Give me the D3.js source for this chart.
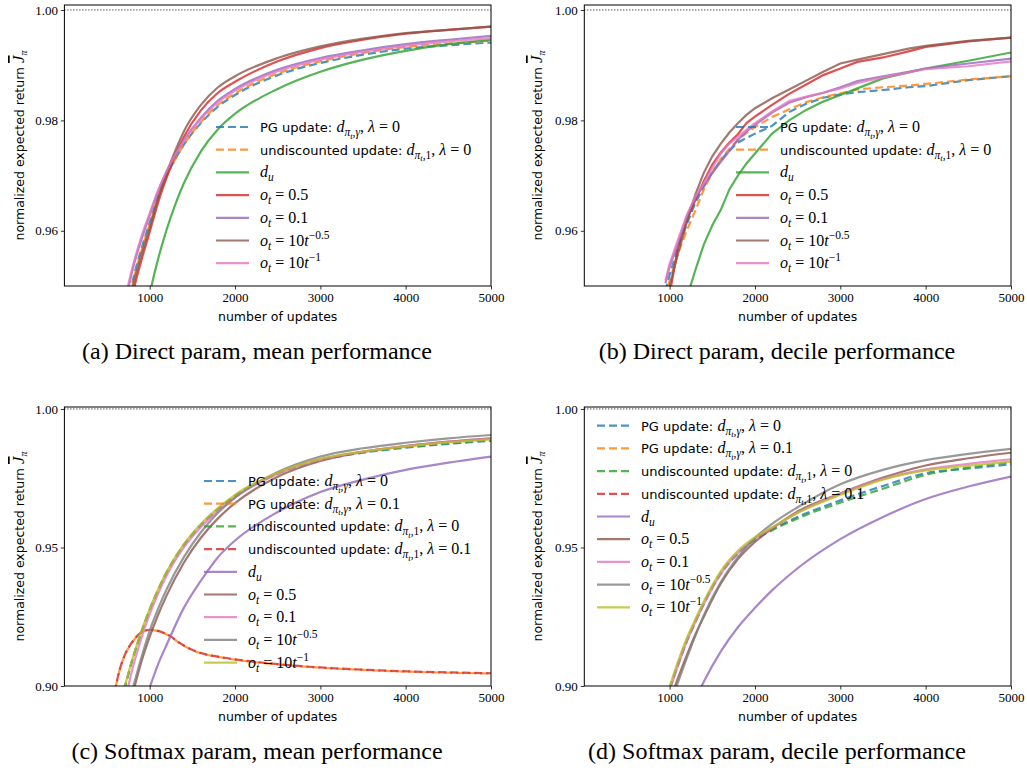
<!DOCTYPE html>
<html>
<head>
<meta charset="utf-8">
<script src="https://cdn.jsdelivr.net/npm/d3@7"></script>
<style>
body { margin: 0; background: #fff; }
text { white-space: pre; }
</style>
</head>
<body>
<svg id="fig" width="1027" height="772"></svg>
<script>
// ---- panel (a): direct param, mean ----
var xsA = [700, 800, 900, 1000, 1100, 1200, 1300, 1400, 1600, 1800, 2000, 2500, 3000, 3500, 4000, 4500, 5000];
var aPg   = [0.9420, 0.9508, 0.9566, 0.9615, 0.9662, 0.9700, 0.9730, 0.9756, 0.9795, 0.9825, 0.9846, 0.9882, 0.9904, 0.9919, 0.9930, 0.9936, 0.9941];
var aUnd  = [0.9410, 0.9503, 0.9562, 0.9612, 0.9660, 0.9699, 0.9730, 0.9756, 0.9797, 0.9828, 0.9849, 0.9885, 0.9907, 0.9922, 0.9933, 0.9939, 0.9944];
var aDu   = [0.9220, 0.9310, 0.9400, 0.9485, 0.9550, 0.9603, 0.9648, 0.9686, 0.9744, 0.9784, 0.9812, 0.9857, 0.9888, 0.9910, 0.9926, 0.9938, 0.9946];
var aO05  = [0.9370, 0.9482, 0.9545, 0.9598, 0.9652, 0.9697, 0.9737, 0.9770, 0.9818, 0.9850, 0.9870, 0.9907, 0.9931, 0.9946, 0.9957, 0.9964, 0.9970];
var aO01  = [0.9460, 0.9530, 0.9583, 0.9628, 0.9672, 0.9708, 0.9738, 0.9764, 0.9805, 0.9836, 0.9857, 0.9892, 0.9913, 0.9927, 0.9938, 0.9946, 0.9953];
var aOsq  = [0.9400, 0.9495, 0.9555, 0.9605, 0.9660, 0.9705, 0.9745, 0.9780, 0.9828, 0.9860, 0.9880, 0.9913, 0.9934, 0.9948, 0.9958, 0.9964, 0.9970];
var aOinv = [0.9470, 0.9535, 0.9588, 0.9632, 0.9674, 0.9709, 0.9738, 0.9763, 0.9803, 0.9833, 0.9854, 0.9889, 0.9910, 0.9924, 0.9935, 0.9943, 0.9949];

// ---- panel (b): direct param, decile ----
var xsB = [950, 1000, 1100, 1200, 1300, 1400, 1500, 1600, 1700, 1800, 1900, 2000, 2200, 2400, 2600, 2800, 3000, 3200, 3500, 3800, 4000, 4500, 5000];
var bPg   = [0.9490, 0.9520, 0.9570, 0.9612, 0.9650, 0.9680, 0.9706, 0.9728, 0.9745, 0.9760, 0.9768, 0.9776, 0.9790, 0.9815, 0.9830, 0.9841, 0.9847, 0.9851, 0.9855, 0.9860, 0.9862, 0.9873, 0.9880];
var bUnd  = [0.9480, 0.9510, 0.9560, 0.9600, 0.9636, 0.9675, 0.9705, 0.9730, 0.9748, 0.9765, 0.9777, 0.9788, 0.9806, 0.9820, 0.9833, 0.9842, 0.9849, 0.9856, 0.9860, 0.9863, 0.9866, 0.9874, 0.9880];
var bDu   = [0.9300, 0.9330, 0.9400, 0.9478, 0.9528, 0.9575, 0.9610, 0.9638, 0.9675, 0.9700, 0.9722, 0.9740, 0.9776, 0.9800, 0.9819, 0.9834, 0.9846, 0.9858, 0.9876, 0.9887, 0.9894, 0.9908, 0.9923];
var bO05  = [0.9440, 0.9485, 0.9572, 0.9620, 0.9655, 0.9690, 0.9720, 0.9742, 0.9760, 0.9775, 0.9795, 0.9807, 0.9828, 0.9848, 0.9865, 0.9882, 0.9894, 0.9906, 0.9914, 0.9925, 0.9933, 0.9943, 0.9950];
var bO01  = [0.9505, 0.9535, 0.9578, 0.9625, 0.9660, 0.9682, 0.9705, 0.9725, 0.9745, 0.9765, 0.9780, 0.9792, 0.9814, 0.9832, 0.9842, 0.9850, 0.9860, 0.9871, 0.9880, 0.9888, 0.9894, 0.9903, 0.9912];
var bOsq  = [0.9470, 0.9500, 0.9560, 0.9615, 0.9665, 0.9705, 0.9735, 0.9758, 0.9778, 0.9795, 0.9810, 0.9822, 0.9840, 0.9856, 0.9872, 0.9888, 0.9903, 0.9910, 0.9920, 0.9930, 0.9935, 0.9944, 0.9950];
var bOinv = [0.9510, 0.9540, 0.9585, 0.9628, 0.9662, 0.9686, 0.9714, 0.9740, 0.9758, 0.9770, 0.9783, 0.9795, 0.9816, 0.9835, 0.9843, 0.9850, 0.9858, 0.9868, 0.9878, 0.9887, 0.9893, 0.9898, 0.9907];

// ---- panel (c): softmax param, mean ----
var xsC = [600, 650, 700, 800, 900, 1000, 1100, 1200, 1400, 1600, 1800, 2000, 2500, 3000, 3500, 4000, 4500, 5000];
var cPg0  = [null, null, 0.8985, 0.9098, 0.9192, 0.9275, 0.9347, 0.9410, 0.9508, 0.9580, 0.9637, 0.9685, 0.9766, 0.9815, 0.9842, 0.9860, 0.9874, 0.9885];
var cPg1  = [0.8995, 0.9060, 0.9105, 0.9160, 0.9192, 0.9202, 0.9198, 0.9186, 0.9145, 0.9118, 0.9105, 0.9095, 0.9078, 0.9066, 0.9058, 0.9052, 0.9048, 0.9045];
var cUnd0 = [null, null, 0.8985, 0.9098, 0.9192, 0.9276, 0.9348, 0.9411, 0.9509, 0.9582, 0.9639, 0.9687, 0.9767, 0.9817, 0.9844, 0.9862, 0.9876, 0.9887];
var cUnd1 = [0.8996, 0.9061, 0.9106, 0.9161, 0.9193, 0.9203, 0.9199, 0.9187, 0.9146, 0.9119, 0.9106, 0.9096, 0.9079, 0.9067, 0.9059, 0.9053, 0.9049, 0.9046];
var cDu   = [null, null, null, null, null, 0.8995, 0.9080, 0.9150, 0.9282, 0.9380, 0.9465, 0.9525, 0.9628, 0.9700, 0.9745, 0.9780, 0.9806, 0.9828];
var cO05  = [null, null, null, 0.8970, 0.9085, 0.9178, 0.9258, 0.9328, 0.9445, 0.9535, 0.9605, 0.9660, 0.9755, 0.9812, 0.9845, 0.9866, 0.9882, 0.9894];
var cO01  = [null, null, 0.8930, 0.9065, 0.9170, 0.9260, 0.9335, 0.9400, 0.9500, 0.9574, 0.9632, 0.9681, 0.9765, 0.9817, 0.9846, 0.9866, 0.9881, 0.9893];
var cOsq  = [null, null, null, 0.8990, 0.9100, 0.9200, 0.9280, 0.9350, 0.9465, 0.9555, 0.9625, 0.9680, 0.9772, 0.9828, 0.9858, 0.9878, 0.9894, 0.9906];
var cOinv = [null, null, 0.8990, 0.9100, 0.9195, 0.9278, 0.9350, 0.9413, 0.9512, 0.9585, 0.9642, 0.9690, 0.9770, 0.9820, 0.9846, 0.9864, 0.9879, 0.9890];

// ---- panel (d): softmax param, decile ----
var xsD = [1000, 1100, 1200, 1300, 1400, 1600, 1800, 2000, 2200, 2500, 3000, 3500, 4000, 4500, 5000];
var dPg0  = [0.8990, 0.9080, 0.9162, 0.9232, 0.9298, 0.9408, 0.9480, 0.9530, 0.9565, 0.9610, 0.9670, 0.9722, 0.9768, 0.9785, 0.9800];
var dUnd0 = [0.8988, 0.9078, 0.9160, 0.9230, 0.9296, 0.9405, 0.9478, 0.9528, 0.9562, 0.9605, 0.9662, 0.9712, 0.9762, 0.9788, 0.9807];
var dDu   = [null, null, null, 0.8950, 0.9015, 0.9125, 0.9212, 0.9282, 0.9345, 0.9425, 0.9530, 0.9610, 0.9675, 0.9720, 0.9756];
var dO05  = [0.8945, 0.9030, 0.9110, 0.9185, 0.9250, 0.9370, 0.9458, 0.9520, 0.9568, 0.9630, 0.9695, 0.9752, 0.9796, 0.9822, 0.9842];
var dO01  = [0.8985, 0.9075, 0.9160, 0.9230, 0.9295, 0.9405, 0.9480, 0.9532, 0.9570, 0.9625, 0.9695, 0.9748, 0.9782, 0.9802, 0.9818];
var dOsq  = [0.8930, 0.9015, 0.9100, 0.9180, 0.9255, 0.9375, 0.9465, 0.9535, 0.9585, 0.9645, 0.9728, 0.9780, 0.9815, 0.9838, 0.9856];
var dOinv = [0.8998, 0.9090, 0.9172, 0.9240, 0.9305, 0.9415, 0.9488, 0.9537, 0.9573, 0.9625, 0.9690, 0.9745, 0.9778, 0.9795, 0.9810];

var xTicks = [1000, 2000, 3000, 4000, 5000];
var yTicksTop = [0.96, 0.98, 1.00];
var yTicksBottom = [0.90, 0.95, 1.00];
var captions = ["(a) Direct param, mean performance", "(b) Direct param, decile performance",
                "(c) Softmax param, mean performance", "(d) Softmax param, decile performance"];

// legend labels: s = sans text, r = roman math, i = italic math, b = subscript, bb = sub-subscript, p = superscript
var labPg0  = [["s", "PG update: "], ["i", "d"], ["b", "π"], ["bb", "t"], ["b", ",γ"], ["r", ", "], ["i", "λ"], ["r", " = 0"]];
var labPg1  = [["s", "PG update: "], ["i", "d"], ["b", "π"], ["bb", "t"], ["b", ",γ"], ["r", ", "], ["i", "λ"], ["r", " = 0.1"]];
var labUnd0 = [["s", "undiscounted update: "], ["i", "d"], ["b", "π"], ["bb", "t"], ["br", ",1"], ["r", ", "], ["i", "λ"], ["r", " = 0"]];
var labUnd1 = [["s", "undiscounted update: "], ["i", "d"], ["b", "π"], ["bb", "t"], ["br", ",1"], ["r", ", "], ["i", "λ"], ["r", " = 0.1"]];
var labDu   = [["i", "d"], ["b", "u"]];
var labO05  = [["i", "o"], ["b", "t"], ["r", " = 0.5"]];
var labO01  = [["i", "o"], ["b", "t"], ["r", " = 0.1"]];
var labOsq  = [["i", "o"], ["b", "t"], ["r", " = 10"], ["i", "t"], ["p", "−0.5"]];
var labOinv = [["i", "o"], ["b", "t"], ["r", " = 10"], ["i", "t"], ["p", "−1"]];

var tab = {blue: "#1f77b4", orange: "#ff7f0e", green: "#2ca02c", red: "#d62728", purple: "#9467bd",
           brown: "#8c564b", pink: "#e377c2", gray: "#7f7f7f", olive: "#bcbd22"};

var panels = [
  {left: 64.4, right: 491, top: 5, bottom: 286, ydom: [0.95, 1.0009], yticks: yTicksTop, xs: xsA,
   curve: d3.curveMonotoneX, lab: 24, leg: [216, 127], cap: [257, 359], xlab: 321,
   series: [
     {lab: labPg0, color: tab.blue, dash: true, v: aPg},
     {lab: labUnd0, color: tab.orange, dash: true, v: aUnd},
     {lab: labDu, color: tab.green, v: aDu},
     {lab: labO05, color: tab.red, v: aO05},
     {lab: labO01, color: tab.purple, v: aO01},
     {lab: labOsq, color: tab.brown, v: aOsq},
     {lab: labOinv, color: tab.pink, v: aOinv}]},
  {left: 584.3, right: 1011, top: 5, bottom: 286, ydom: [0.95, 1.0009], yticks: yTicksTop, xs: xsB,
   curve: d3.curveLinear, lab: 542, leg: [736, 127], cap: [777, 359], xlab: 321,
   series: [
     {lab: labPg0, color: tab.blue, dash: true, v: bPg},
     {lab: labUnd0, color: tab.orange, dash: true, v: bUnd},
     {lab: labDu, color: tab.green, v: bDu},
     {lab: labO05, color: tab.red, v: bO05},
     {lab: labO01, color: tab.purple, v: bO01},
     {lab: labOsq, color: tab.brown, v: bOsq},
     {lab: labOinv, color: tab.pink, v: bOinv}]},
  {left: 64.4, right: 491, top: 407, bottom: 686, ydom: [0.9, 1.0007], yticks: yTicksBottom, xs: xsC,
   curve: d3.curveMonotoneX, lab: 24, leg: [204, 481], cap: [257, 759], xlab: 721,
   series: [
     {lab: labPg0, color: tab.blue, dash: true, v: cPg0},
     {lab: labPg1, color: tab.orange, dash: true, v: cPg1},
     {lab: labUnd0, color: tab.green, dash: true, v: cUnd0},
     {lab: labUnd1, color: tab.red, dash: true, off: 6, v: cUnd1},
     {lab: labDu, color: tab.purple, v: cDu},
     {lab: labO05, color: tab.brown, v: cO05},
     {lab: labO01, color: tab.pink, v: cO01},
     {lab: labOsq, color: tab.gray, v: cOsq},
     {lab: labOinv, color: tab.olive, v: cOinv}]},
  {left: 584.3, right: 1011, top: 407, bottom: 686, ydom: [0.9, 1.0007], yticks: yTicksBottom, xs: xsD,
   curve: d3.curveMonotoneX, lab: 542, leg: [597, 425.7], cap: [777, 759], xlab: 721,
   series: [
     {lab: labPg0, color: tab.blue, dash: true, v: dPg0},
     {lab: labPg1, color: tab.orange, dash: true, v: null},
     {lab: labUnd0, color: tab.green, dash: true, v: dUnd0},
     {lab: labUnd1, color: tab.red, dash: true, v: null},
     {lab: labDu, color: tab.purple, v: dDu},
     {lab: labO05, color: tab.brown, v: dO05},
     {lab: labO01, color: tab.pink, v: dO01},
     {lab: labOsq, color: tab.gray, v: dOsq},
     {lab: labOinv, color: tab.olive, v: dOinv}]}
];

var svg = d3.select("#fig");
var sans = "'DejaVu Sans', sans-serif";
var serif = "'Liberation Serif', 'DejaVu Serif', serif";

function mathLabel(g, x, y, parts) {
  var t = g.append("text").attr("x", x).attr("y", y).attr("fill", "#000");
  var cur = 0;
  parts.forEach(function(p) {
    var kind = p[0], shift = 0, size = 16, fam = serif, style = "normal";
    if (kind === "s") { fam = sans; size = 13; }
    if (kind === "i") { style = "italic"; }
    if (kind === "b") { style = "italic"; size = 11.5; shift = 4; }
    if (kind === "br") { size = 11.5; shift = 4; }
    if (kind === "bb") { style = "italic"; size = 8.5; shift = 6.5; }
    if (kind === "p") { size = 11.5; shift = -7; }
    t.append("tspan")
      .attr("dy", shift - cur)
      .attr("font-family", fam)
      .attr("font-size", size)
      .attr("font-style", style)
      .text(p[1]);
    cur = shift;
  });
  return t;
}

panels.forEach(function(p, k) {
  var x = d3.scaleLinear().domain([0, 5000]).range([p.left, p.right]);
  var y = d3.scaleLinear().domain(p.ydom).range([p.bottom, p.top]);
  var g = svg.append("g");

  var clipId = "clip" + k;
  svg.append("clipPath").attr("id", clipId).append("rect")
     .attr("x", p.left).attr("y", p.top)
     .attr("width", p.right - p.left).attr("height", p.bottom - p.top);

  // axes
  var xa = g.append("g").attr("transform", "translate(0," + p.bottom + ")")
    .call(d3.axisBottom(x).tickValues(xTicks).tickSize(3.5).tickPadding(3).tickFormat(d3.format("d")));
  var ya = g.append("g").attr("transform", "translate(" + p.left + ",0)")
    .call(d3.axisLeft(y).tickValues(p.yticks).tickSize(3.5).tickPadding(3).tickFormat(d3.format(".2f")));
  [xa, ya].forEach(function(a) {
    a.select(".domain").remove();
    a.selectAll("text").attr("font-family", serif).attr("font-size", 13).attr("fill", "#000");
    a.selectAll("line").attr("stroke", "#000").attr("stroke-width", 0.8);
  });

  // dotted optimum line
  g.append("line")
   .attr("x1", p.left).attr("x2", p.right)
   .attr("y1", y(1)).attr("y2", y(1))
   .attr("stroke", "#000").attr("stroke-width", 1).attr("stroke-dasharray", "1,2");

  var line = d3.line()
    .defined(function(d) { return d[1] != null; })
    .x(function(d) { return x(d[0]); })
    .y(function(d) { return y(d[1]); })
    .curve(p.curve);

  var lines = g.append("g").attr("clip-path", "url(#" + clipId + ")");
  p.series.forEach(function(s) {
    if (!s.v) return;
    var pts = p.xs.map(function(xv, i) { return [xv, s.v[i]]; });
    lines.append("path")
      .attr("d", line(pts))
      .attr("fill", "none")
      .attr("stroke", s.color)
      .attr("stroke-opacity", 0.8)
      .attr("stroke-width", 2.2)
      .attr("stroke-dasharray", s.dash ? "8,4" : null)
      .attr("stroke-dashoffset", s.off || 0);
  });

  // spines
  g.append("rect")
   .attr("x", p.left).attr("y", p.top)
   .attr("width", p.right - p.left).attr("height", p.bottom - p.top)
   .attr("fill", "none").attr("stroke", "#000").attr("stroke-width", 1);

  // legend
  var lg = g.append("g");
  p.series.forEach(function(s, i) {
    var ly = p.leg[1] + i * 22.7;
    lg.append("line")
      .attr("x1", p.leg[0]).attr("x2", p.leg[0] + 33)
      .attr("y1", ly).attr("y2", ly)
      .attr("stroke", s.color).attr("stroke-opacity", 0.8).attr("stroke-width", 2.2)
      .attr("stroke-dasharray", s.dash ? "8,4" : null);
    mathLabel(lg, p.leg[0] + 44, ly + 5, s.lab);
  });

  // axis labels
  g.append("text")
   .attr("x", (p.left + p.right) / 2).attr("y", p.xlab)
   .attr("text-anchor", "middle")
   .attr("font-family", sans).attr("font-size", 12.5)
   .text("number of updates");

  var yl = g.append("text")
   .attr("transform", "translate(" + p.lab + "," + ((p.top + p.bottom) / 2) + ") rotate(-90)")
   .attr("text-anchor", "middle");
  yl.append("tspan").attr("font-family", sans).attr("font-size", 12.5).text("normalized expected return ");
  yl.append("tspan").attr("font-family", serif).attr("font-style", "italic").attr("font-size", 17)
    .attr("text-decoration", "overline").text("J");
  yl.append("tspan").attr("font-family", serif).attr("font-style", "italic").attr("font-size", 10)
    .attr("dy", 3).text("π");

  // caption
  svg.append("text")
   .attr("x", p.cap[0]).attr("y", p.cap[1])
   .attr("text-anchor", "middle")
   .attr("font-family", serif).attr("font-size", 24)
   .text(captions[k]);
});
</script>
</body>
</html>
